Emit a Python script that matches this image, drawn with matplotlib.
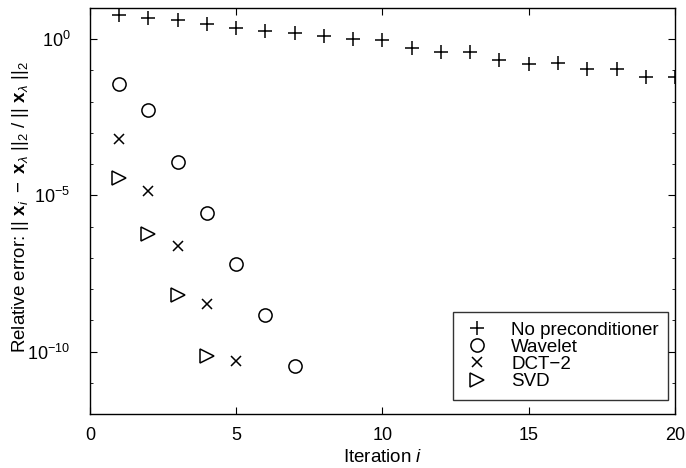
import numpy as np
import matplotlib
matplotlib.use("Agg")
import matplotlib.pyplot as plt
from matplotlib.ticker import LogLocator, LogFormatterSciNotation, NullFormatter

plt.rcParams['font.family'] = ['Liberation Sans', 'DejaVu Sans']
plt.rcParams['mathtext.fontset'] = 'custom'
plt.rcParams['mathtext.rm'] = 'Liberation Sans'
plt.rcParams['mathtext.it'] = 'Liberation Sans:italic'
plt.rcParams['mathtext.bf'] = 'Liberation Sans:bold'

# values
it_none = list(range(1, 21))
err_none = [5.8, 4.7, 4.0, 3.0, 2.24, 1.8, 1.55, 1.25, 1.0, 0.93,
            0.52, 0.38, 0.38, 0.21, 0.16, 0.17, 0.11, 0.11, 0.062, 0.062]

it_wav = [1, 2, 3, 4, 5, 6, 7]
err_wav = [10**-1.43, 10**-2.26, 10**-3.92, 10**-5.57, 10**-7.20, 10**-8.82, 10**-10.45]

it_dct = [1, 2, 3, 4, 5]
err_dct = [10**-3.18, 10**-4.87, 10**-6.62, 10**-8.47, 10**-10.29]

it_svd = [1, 2, 3, 4]
err_svd = [10**-4.43, 10**-6.24, 10**-8.18, 10**-10.13]

fig = plt.figure(figsize=(6.86, 4.68), dpi=100)
ax = fig.add_axes([0.131, 0.115, 0.853, 0.868])

ax.plot(it_none, err_none, '+', color='k', ms=10, mew=1.1, label='No preconditioner')
ax.plot(it_wav, err_wav, 'o', color='k', mfc='none', ms=9.5, mew=1.1, label='Wavelet')
ax.plot(it_dct, err_dct, 'x', color='k', ms=6.5, mew=1.1, label='DCT\u22122')
ax.plot(it_svd, err_svd, '>', color='k', mfc='none', ms=9.5, mew=1.1, label='SVD')

ax.set_yscale('log')
ax.set_xlim(0, 20)
ax.set_ylim(1e-12, 1e1)
ax.set_xticks([0, 5, 10, 15, 20])
ax.set_yticks([1e-10, 1e-5, 1e0])
ax.yaxis.set_major_formatter(LogFormatterSciNotation())
ax.yaxis.set_minor_locator(LogLocator(base=10, subs=(1.0,), numticks=30))
ax.yaxis.set_minor_formatter(NullFormatter())

ax.tick_params(which='both', direction='in', top=True, right=True, labelsize=13)
ax.tick_params(which='major', length=5, width=0.8)
ax.tick_params(which='minor', length=2.5, width=0.6)
ax.tick_params(axis='y', which='major', pad=14)
ax.tick_params(axis='x', which='major', pad=9)
for s in ax.spines.values():
    s.set_linewidth(1.0)

ax.set_xlabel('Iteration $i$', fontsize=13.5)
ax.xaxis.set_label_coords(0.5, -0.086)
ax.set_ylabel(r'Relative error: $||\ \mathbf{x}_{i}\ -\ \mathbf{x}_{\lambda}\ ||_{2}\ /\ ||\ \mathbf{x}_{\lambda}\ ||_{2}$',
              fontsize=13.5)
ax.yaxis.set_label_coords(-0.10, 0.51)

leg = ax.legend(loc='lower right', fontsize=13.5, frameon=True, fancybox=False,
                edgecolor='k', borderpad=0.5, labelspacing=0.0, handletextpad=1.05,
                handlelength=1.55, borderaxespad=0, bbox_to_anchor=(0.988, 0.036))
leg.get_frame().set_linewidth(1.0)

fig.savefig('out.png', dpi=100)
